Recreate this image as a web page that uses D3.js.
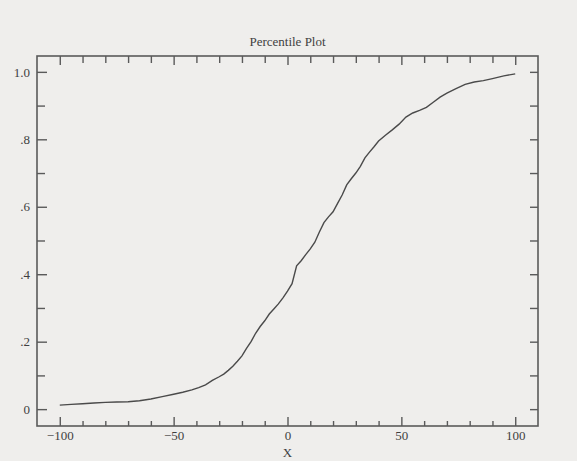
<!DOCTYPE html>
<html>
<head>
<meta charset="utf-8">
<script src="https://cdn.jsdelivr.net/npm/d3@7"></script>
<style>
  html, body { margin: 0; padding: 0; background: #efeeec; }
  svg { display: block; }
  text { font-family: "Liberation Serif", "DejaVu Serif", serif; fill: #3f3f3f; }
</style>
</head>
<body>
<svg id="chart" width="577" height="461"></svg>
<script>
var xVals = [-100, -95, -90, -85, -80, -75, -70, -65, -60, -55, -50, -46, -42, -39, -36, -33, -30, -28, -26, -24,
  -22, -20, -18, -16, -14, -12, -10, -8, -6, -4, -2, 0, 2, 4, 6, 8, 10, 12, 14, 16,
  18, 20, 22, 24, 26, 28, 30, 32, 34, 36, 38, 40, 43, 46, 49, 52, 55, 58, 61, 64,
  67, 70, 74, 78, 82, 86, 90, 95, 100];
var pctVals = [0.012, 0.014, 0.016, 0.018, 0.020, 0.021, 0.022, 0.025, 0.030, 0.037, 0.044, 0.050, 0.057, 0.064, 0.072, 0.085, 0.096, 0.104, 0.115, 0.127,
  0.142, 0.158, 0.180, 0.200, 0.225, 0.245, 0.262, 0.282, 0.297, 0.312, 0.330, 0.350, 0.372, 0.425, 0.440, 0.458, 0.475, 0.495, 0.525, 0.553,
  0.570, 0.585, 0.610, 0.635, 0.665, 0.683, 0.700, 0.720, 0.745, 0.762, 0.778, 0.795, 0.812, 0.828, 0.845, 0.866, 0.878, 0.886, 0.895, 0.910,
  0.925, 0.937, 0.950, 0.963, 0.970, 0.974, 0.980, 0.988, 0.994];

var xMajor = [-100, -50, 0, 50, 100];
var xMinor = [-90, -80, -70, -60, -40, -30, -20, -10, 10, 20, 30, 40, 60, 70, 80, 90];
var yMajor = [0, 0.2, 0.4, 0.6, 0.8, 1.0];
var yMinor = [0.1, 0.3, 0.5, 0.7, 0.9];
var yLabels = ["0", ".2", ".4", ".6", ".8", "1.0"];

var margin = {top: 56, right: 39, bottom: 35, left: 37};
var svg = d3.select("#chart");
var W = 577, H = 461;
var width = W - margin.left - margin.right,
    height = H - margin.top - margin.bottom;

var g = svg.append("g").attr("transform", "translate(" + margin.left + "," + margin.top + ")");

var x = d3.scaleLinear().domain([-110, 110]).range([0, width]);
var y = d3.scaleLinear().domain([-0.05, 1.047]).range([height, 0]);

var ink = "#5a5a5a";

// ticks, all pointing into the box
function tickSet(axis, vals, len, pad, fmt) {
  return axis(axis === d3.axisBottom || axis === d3.axisTop ? x : y)
    .tickValues(vals).tickSizeInner(-len).tickSizeOuter(0).tickPadding(pad)
    .tickFormat(fmt || "");
}

var bottomMaj = g.append("g").attr("transform", "translate(0," + height + ")")
  .call(tickSet(d3.axisBottom, xMajor, 9, 5, function (d) { return d < 0 ? "\u2212" + Math.abs(d) : d; }));
g.append("g").attr("transform", "translate(0," + height + ")").call(tickSet(d3.axisBottom, xMinor, 5, 5));
g.append("g").call(tickSet(d3.axisTop, xMajor, 9, 5));
g.append("g").call(tickSet(d3.axisTop, xMinor, 7, 5));

var leftMaj = g.append("g").call(tickSet(d3.axisLeft, yMajor, 10, 7, function (d, i) { return yLabels[i]; }));
g.append("g").call(tickSet(d3.axisLeft, yMinor, 8, 7));
g.append("g").attr("transform", "translate(" + width + ",0)").call(tickSet(d3.axisRight, yMajor, 8, 5));
g.append("g").attr("transform", "translate(" + width + ",0)").call(tickSet(d3.axisRight, yMinor, 8, 5));

g.selectAll(".domain").remove();
g.selectAll(".tick line").attr("stroke", ink).attr("stroke-width", 1.4);
g.selectAll(".tick text").attr("font-size", "13px").attr("font-family", "Liberation Serif, serif").attr("fill", "#3f3f3f");

// frame
g.append("rect").attr("x", 0).attr("y", 0).attr("width", width).attr("height", height)
  .attr("fill", "none").attr("stroke", ink).attr("stroke-width", 1.6);

// percentile curve
var pts = xVals.map(function (v, i) { return [v, pctVals[i]]; });
var line = d3.line().x(function (d) { return x(d[0]); }).y(function (d) { return y(d[1]); });
g.append("path").datum(pts).attr("d", line)
  .attr("fill", "none").attr("stroke", "#4a4a4a").attr("stroke-width", 1.4);

// title and axis label
svg.append("text").attr("x", margin.left + x(0)).attr("y", 46).attr("text-anchor", "middle")
  .attr("font-size", "13px").text("Percentile Plot");
svg.append("text").attr("x", margin.left + x(0)).attr("y", 457).attr("text-anchor", "middle")
  .attr("font-size", "13px").text("X");
</script>
</body>
</html>
